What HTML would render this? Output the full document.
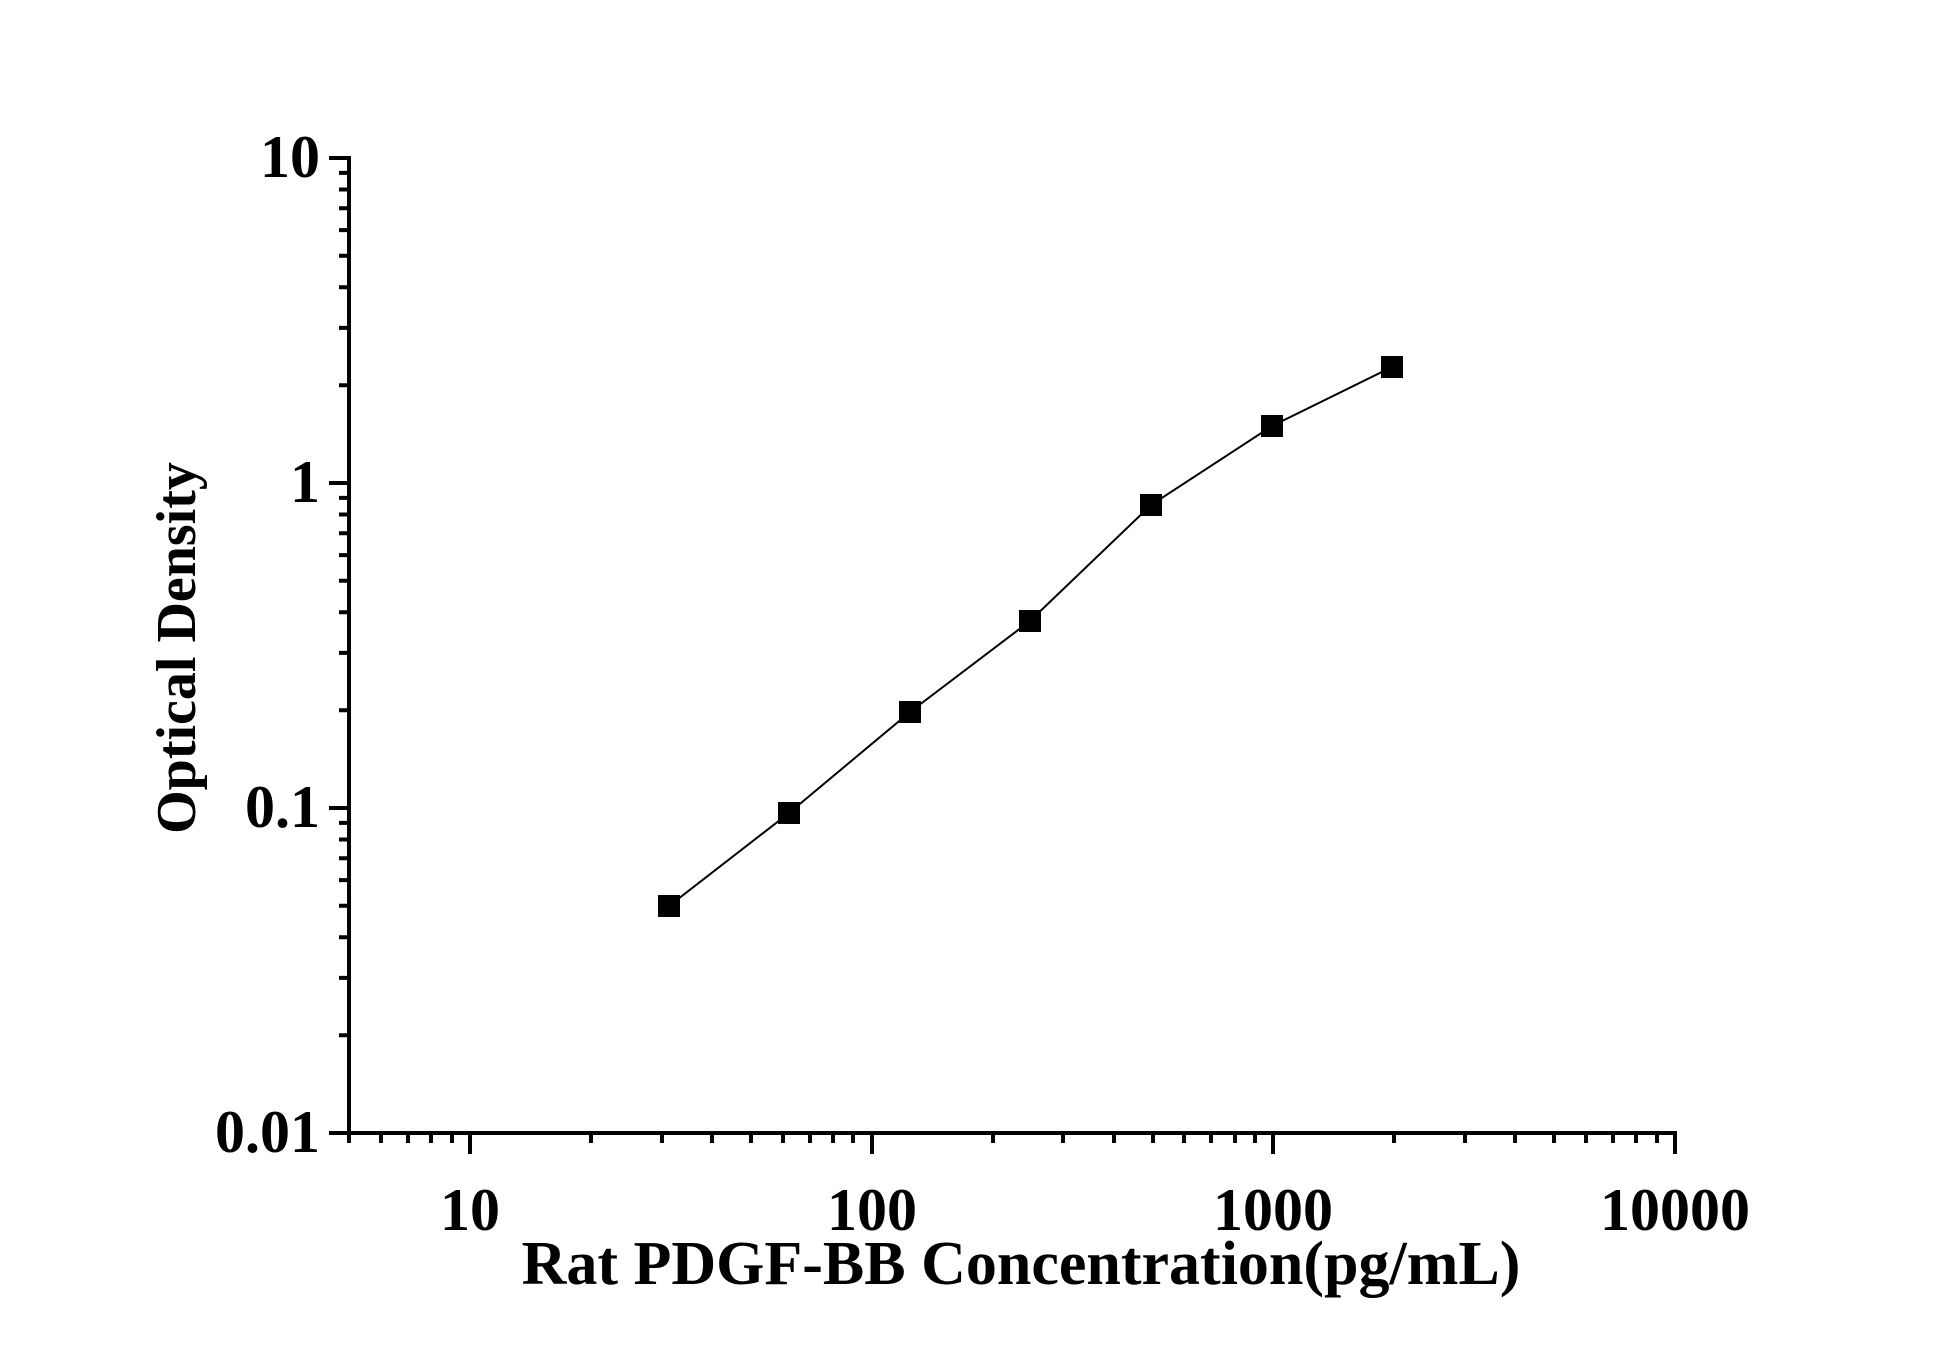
<!DOCTYPE html>
<html><head><meta charset="utf-8"><style>html,body{margin:0;padding:0;background:#fff}</style></head>
<body>
<svg width="1946" height="1359" viewBox="0 0 1946 1359" xmlns="http://www.w3.org/2000/svg" font-family="Liberation Serif, serif" font-weight="bold">
<g stroke="#000" stroke-width="4" fill="none">
<line x1="349" y1="156" x2="349" y2="1135"/>
<line x1="347" y1="1133" x2="1677" y2="1133"/>
<path d="M329 158H349M329 483H349M329 808H349M329 1133H349
M339 385.2H349M339 327.9H349M339 287.3H349M339 255.8H349M339 230.1H349M339 208.3H349M339 189.5H349M339 172.9H349
M339 710.2H349M339 652.9H349M339 612.3H349M339 580.8H349M339 555.1H349M339 533.3H349M339 514.5H349M339 497.9H349
M339 1035.2H349M339 977.9H349M339 937.3H349M339 905.8H349M339 880.1H349M339 858.3H349M339 839.5H349M339 822.9H349
M349 1133V1143M381 1133V1143M408 1133V1143M431 1133V1143M452 1133V1143
M470 1133V1154M872 1133V1154M1273 1133V1154M1675 1133V1154
M591 1133V1143M662 1133V1143M712 1133V1143M751 1133V1143M783 1133V1143M810 1133V1143M833 1133V1143M853 1133V1143
M993 1133V1143M1063 1133V1143M1114 1133V1143M1153 1133V1143M1184 1133V1143M1211 1133V1143M1235 1133V1143M1255 1133V1143
M1394 1133V1143M1465 1133V1143M1515 1133V1143M1554 1133V1143M1586 1133V1143M1613 1133V1143M1636 1133V1143M1657 1133V1143"/>
</g>
<g font-size="60" text-anchor="end">
<text x="320" y="177">10</text>
<text x="320" y="502">1</text>
<text x="320" y="827">0.1</text>
<text x="320" y="1152">0.01</text>
</g>
<g font-size="60" text-anchor="middle">
<text x="470" y="1230">10</text>
<text x="872" y="1230">100</text>
<text x="1273" y="1230">1000</text>
<text x="1675" y="1230">10000</text>
</g>
<text x="1021" y="1284" font-size="62" text-anchor="middle">Rat PDGF-BB Concentration(pg/mL)</text>
<text transform="translate(195,648) rotate(-90)" font-size="56" text-anchor="middle">Optical Density</text>
<polyline fill="none" stroke="#000" stroke-width="2" points="669,906 789,813 910,712 1030,621 1151,505 1272,426 1392,367"/>
<g fill="#000">
<rect x="658" y="895" width="22" height="22"/>
<rect x="778" y="802" width="22" height="22"/>
<rect x="899" y="701" width="22" height="22"/>
<rect x="1019" y="610" width="22" height="22"/>
<rect x="1140" y="494" width="22" height="22"/>
<rect x="1261" y="415" width="22" height="22"/>
<rect x="1381" y="356" width="22" height="22"/>
</g>
</svg>
</body></html>
